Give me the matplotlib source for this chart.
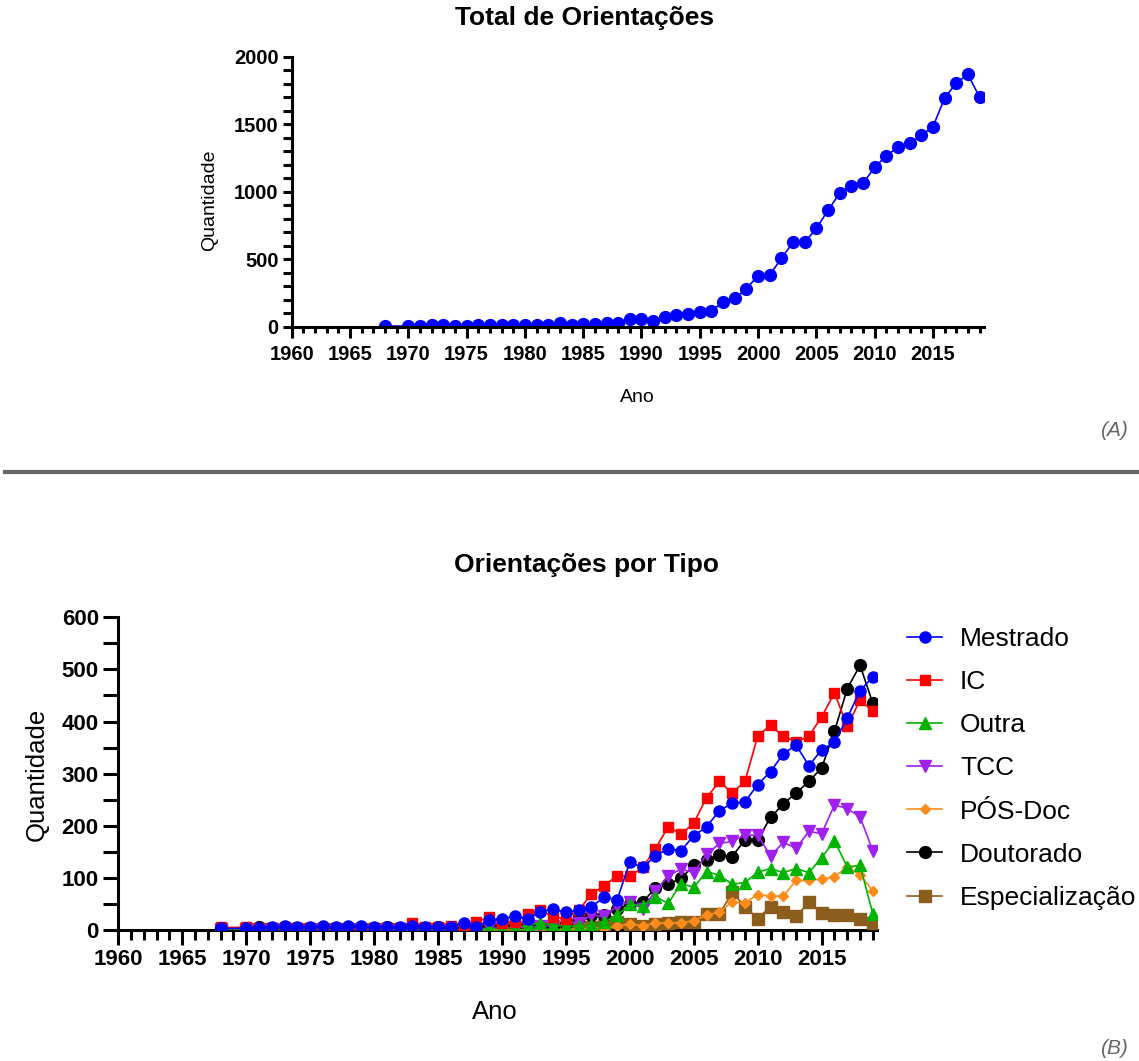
import matplotlib
matplotlib.use('Agg')
import matplotlib.pyplot as plt
from matplotlib.ticker import MultipleLocator
from matplotlib.lines import Line2D

plt.rcParams['font.family'] = ['Liberation Sans', 'DejaVu Sans']
plt.rcParams['font.weight'] = 'bold'

# anos com dados (1969 sem registro)
anos = [1968] + list(range(1970, 2020))

# total de orientacoes por ano
total = [5, 5, 7, 10, 12, 7, 5, 10, 10, 12, 15, 10, 15, 15, 27, 15, 20, 20, 25, 27,
         54, 54, 42, 74, 88, 94, 111, 119, 181, 210, 282, 378, 383, 506, 625, 625,
         729, 862, 990, 1042, 1062, 1180, 1267, 1329, 1358, 1417, 1481, 1694, 1805,
         1869, 1699]

# orientacoes por tipo
mestrado = [3, 3, 4, 6, 8, 5, 5, 8, 5, 8, 7, 5, 6, 6, 8, 6, 6, 6, 14, 6,
            19, 22, 26, 21, 35, 40, 34, 38, 45, 63, 58, 130, 120, 142, 156, 152,
            181, 198, 229, 243, 246, 279, 304, 338, 355, 315, 346, 360, 407, 459, 486]
ic = [5, 5, 4, 4, 5, 3, 3, 4, 3, 3, 3, 4, 4, 4, 13, 6, 5, 8, 7, 16,
      24, 14, 16, 30, 38, 25, 22, 38, 69, 85, 104, 103, 120, 156, 198, 184,
      205, 254, 285, 263, 285, 372, 393, 372, 361, 372, 409, 455, 391, 441, 420]
outra = [0, 0, 0, 0, 0, 0, 0, 0, 0, 0, 0, 0, 0, 0, 0, 0, 0, 0, 0, 1,
         2, 3, 5, 9, 14, 9, 8, 7, 9, 16, 28, 50, 46, 64, 51, 89,
         82, 112, 105, 88, 91, 111, 118, 110, 118, 110, 139, 171, 121, 124, 31]
tcc = [0, 0, 0, 0, 0, 0, 0, 0, 0, 0, 0, 0, 0, 0, 0, 0, 0, 0, 1, 2,
       3, 4, 5, 5, 7, 8, 12, 14, 29, 26, 46, 54, 41, 75, 104, 117,
       110, 145, 166, 170, 182, 182, 142, 168, 157, 189, 185, 240, 233, 217, 152]
posdoc = [0, 0, 0, 0, 0, 0, 0, 0, 0, 0, 0, 0, 0, 0, 0, 0, 0, 0, 0, 0,
          0, 0, 0, 0, 0, 0, 1, 2, 3, 4, 7, 12, 8, 13, 14, 14,
          18, 29, 34, 54, 52, 68, 65, 65, 95, 95, 98, 102, 121, 106, 75]
doutorado = [4, 2, 5, 3, 3, 3, 2, 3, 3, 3, 4, 3, 6, 4, 4, 3, 5, 4, 4, 5,
             7, 8, 6, 9, 8, 6, 12, 24, 28, 29, 40, 50, 54, 80, 88, 99,
             124, 134, 144, 141, 173, 173, 216, 242, 263, 285, 311, 381, 463, 508, 435]
especializacao = [2, 1, 1, 1, 1, 1, 1, 1, 1, 1, 1, 1, 1, 1, 1, 1, 1, 1, 1, 2,
                  2, 2, 3, 3, 3, 4, 4, 5, 6, 9, 16, 12, 8, 12, 14, 15,
                  15, 30, 30, 72, 45, 22, 45, 35, 26, 53, 32, 29, 29, 22, 13]

W, H = 1139, 1061
fig = plt.figure(figsize=(W / 100, H / 100), dpi=100)


def estilo(ax, ymaj, ymin, lab, ylen, xlen, xpad):
    for s in ['top', 'right']:
        ax.spines[s].set_visible(False)
    for s in ['left', 'bottom']:
        ax.spines[s].set_linewidth(2.2)
    ax.xaxis.set_major_locator(MultipleLocator(5))
    ax.xaxis.set_minor_locator(MultipleLocator(1))
    ax.yaxis.set_major_locator(MultipleLocator(ymaj))
    ax.yaxis.set_minor_locator(MultipleLocator(ymin))
    ax.tick_params(axis='x', which='major', length=xlen[0], width=2.2, labelsize=lab, pad=xpad)
    ax.tick_params(axis='x', which='minor', length=xlen[1], width=2.2)
    ax.tick_params(axis='y', which='both', length=ylen, width=2.2, labelsize=lab, pad=3)


# ---- (A) total ----
ax1 = fig.add_axes([291.7 / W, 1 - 326.7 / H, 692 / W, 270 / H])
ax1.plot(anos, total, '-o', color='#0000ff', ms=8.5, lw=1.2)
ax1.set_xlim(1960, 2019.35)
ax1.set_ylim(0, 2000)
estilo(ax1, 500, 100, 14.5, 6.5, (8, 4.5), 5)
fig.text(585 / W, 1 - 18 / H, 'Total de Orientações', ha='center', va='center',
         fontsize=19, fontweight='bold')
fig.text(637 / W, 1 - 398 / H, 'Ano', ha='center', va='center', fontsize=14, fontweight='normal')
fig.text(210 / W, 1 - 200 / H, 'Quantidade', ha='center', va='center', rotation=90,
         fontsize=14, fontweight='normal')
fig.text(1128 / W, 1 - 430 / H, '(A)', ha='right', va='center', fontsize=15,
         style='italic', fontweight='normal', color='#666666')

# separador
fig.add_artist(Line2D([5 / W, 1], [1 - 472 / H, 1 - 472 / H], transform=fig.transFigure,
                      color='#666666', lw=3))

# ---- (B) por tipo ----
ax2 = fig.add_axes([118.3 / W, 1 - 930 / H, 759 / W, 312.7 / H])
series = [
    ('Mestrado', mestrado, 'o', '#0000ff', 8),
    ('IC', ic, 's', '#ff0000', 7),
    ('Outra', outra, '^', '#00b400', 8),
    ('TCC', tcc, 'v', '#a020f0', 8),
    ('PÓS-Doc', posdoc, 'D', '#ff8c1a', 5.5),
    ('Doutorado', doutorado, 'o', '#000000', 8.5),
    ('Especialização', especializacao, 's', '#8b5e1e', 8),
]
for i, (nome, vals, mk, cor, ms) in enumerate(series):
    ax2.plot(anos, vals, '-', marker=mk, color=cor, ms=ms, lw=1.2, label=nome,
             zorder=10 - i)
ax2.set_xlim(1960, 2019.35)
ax2.set_ylim(0, 600)
estilo(ax2, 100, 50, 16, 11, (11, 7), 3)
fig.text(587 / W, 1 - 565 / H, 'Orientações por Tipo', ha='center', va='center',
         fontsize=19, fontweight='bold')
fig.text(495 / W, 1 - 1012 / H, 'Ano', ha='center', va='center', fontsize=18.5, fontweight='normal')
fig.text(37 / W, 1 - 774 / H, 'Quantidade', ha='center', va='center', rotation=90,
         fontsize=18.5, fontweight='normal')
fig.text(1128 / W, 1 - 1048 / H, '(B)', ha='right', va='center', fontsize=15,
         style='italic', fontweight='normal', color='#666666')

ax2.legend(loc='upper left', bbox_to_anchor=(907 / W, 1 - 627 / H), bbox_transform=fig.transFigure,
           frameon=False, borderpad=0, borderaxespad=0, handlelength=1.33, handletextpad=0.68,
           labelspacing=0.725, prop={'size': 19, 'weight': 'normal'})

fig.savefig('out.png', dpi=100)
